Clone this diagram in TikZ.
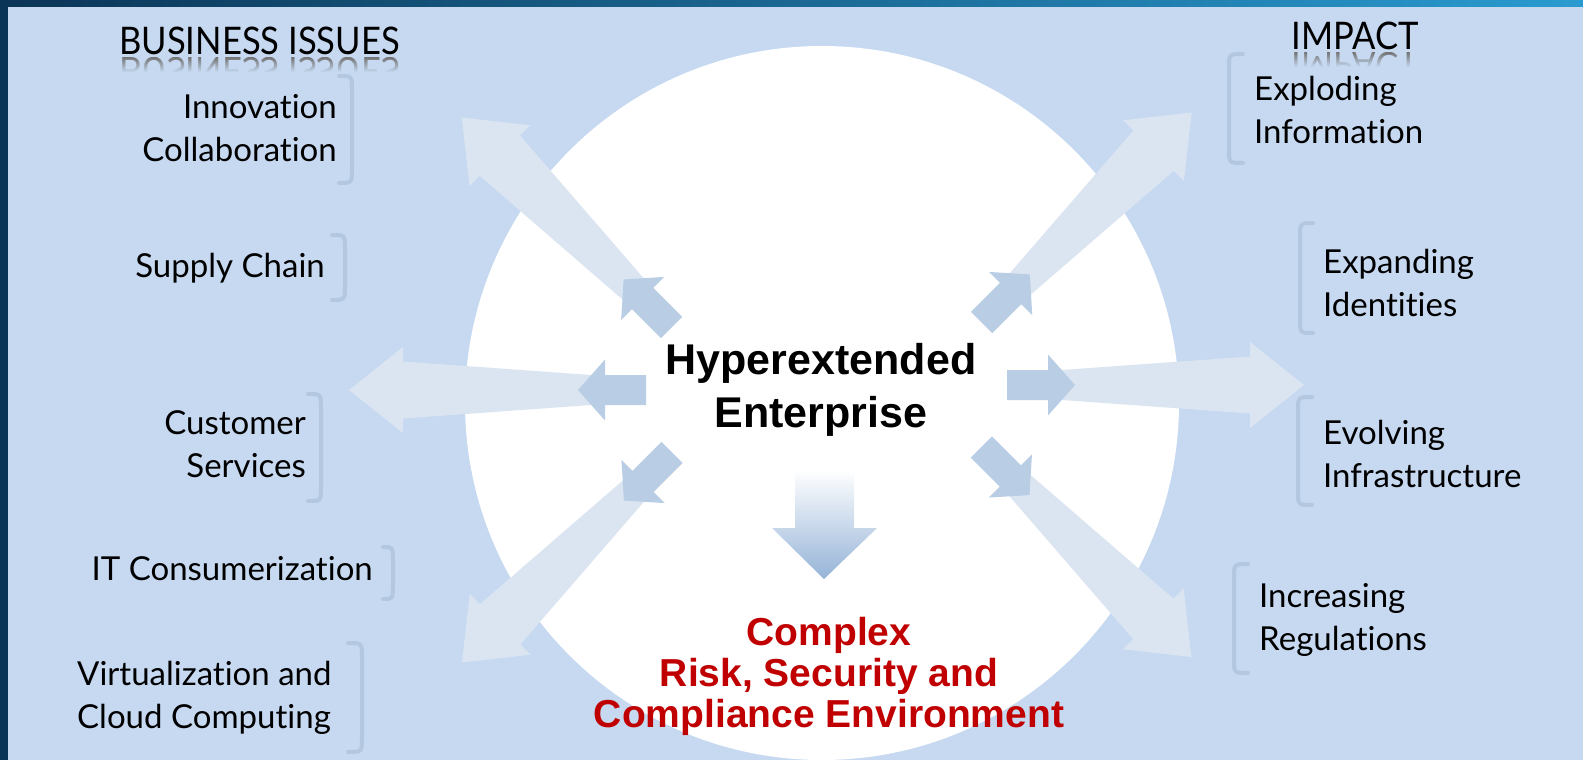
\documentclass[tikz,border=0pt]{standalone}
\usepackage{fontspec}
\setmainfont{Lato}[Ligatures=NoCommon]
\newfontfamily\arialfont{Liberation Sans}
\usetikzlibrary{fadings}

\definecolor{techdark}{HTML}{0B3556}
\definecolor{techcyan}{HTML}{2A9BD0}
\definecolor{panelblue}{HTML}{C6D9F1}
\definecolor{paleblue}{HTML}{DBE5F1}
\definecolor{spokeblue}{HTML}{B9CDE5}
\definecolor{bracketblue}{HTML}{B3C7E1}
\definecolor{dropblue}{HTML}{95B3D7}
\definecolor{riskred}{HTML}{C00000}

\tikzset{
  issue/.style={font=\fontsize{33}{43}\selectfont, inner sep=0pt, align=right, anchor=base east},
  effect/.style={font=\fontsize{33}{43}\selectfont, inner sep=0pt, align=left, anchor=base west},
  heading/.style={font=\fontsize{38}{40}\selectfont, inner sep=0pt, anchor=base, xscale=0.91, transform shape},
  mirror/.style={heading, yscale=-1, text=black!55},
  hubtext/.style={font=\arialfont\bfseries\fontsize{43}{53}\selectfont, inner sep=0pt, align=center, anchor=base},
  risktext/.style={font=\arialfont\bfseries\fontsize{39}{41}\selectfont, inner sep=0pt, align=center, anchor=base, text=riskred},
  brace/.style={draw=bracketblue, line width=4pt, line cap=round}
}

% tail point and direction of each spoke
\def\spokes{646/390/180, 671.7/327.5/135, 981.7/322.5/45, 1007/385/0, 672/452.5/225, 981.4/447/315}

\begin{document}
\begin{tikzpicture}[x=1pt, y=-1pt]
  \useasboundingbox (0,0) rectangle (1583,760);
  \shade[left color=techdark, right color=techcyan] (0,0) rectangle (1583,760);
  \fill[panelblue] (8,7) rectangle (1583,760);
  \fill[white] (822,403) circle[radius=357pt];

  % long pale spokes, then the short ones on top
  \foreach \tx/\ty/\a in \spokes
    \fill[paleblue, shift={(\tx,\ty)}, rotate=\a]
      (41,-14) -- (243,-28.5) -- (243,-43) -- (297,0) -- (243,43) -- (243,28.5) -- (41,14) -- cycle;
  \foreach \tx/\ty/\a in \spokes
    \fill[spokeblue, shift={(\tx,\ty)}, rotate=\a]
      (0,-15) -- (41,-15) -- (41,-30.5) -- (68,0) -- (41,30.5) -- (41,15) -- (0,15) -- cycle;

  % down arrow
  \shade[top color=white, bottom color=dropblue]
    (795,470) -- (854,470) -- (854,528) -- (877,528) -- (824,579) -- (772,528) -- (795,528) -- cycle;

  \node[hubtext] (hub) at (821,427) {Hyperextended\\Enterprise};
  \node[risktext] (risk) at (829,727) {Complex\\Risk, Security and\\Compliance Environment};

  % headings with their reflection
  \node[heading] (issues) at (259.5,55) {BUSINESS ISSUES};
  \node[heading] (impact) at (1355,50) {IMPACT};
  \begin{scope}
    \clip (110,57) rectangle (410,72) (1285,52) rectangle (1425,67);
    \node[mirror] (issuesr) at (259.5,58) {BUSINESS ISSUES};
    \node[mirror] (impactr) at (1355,53) {IMPACT};
  \end{scope}
  \fill[panelblue, path fading=north] (110,57) rectangle (410,72);
  \fill[panelblue, path fading=north] (1285,52) rectangle (1425,67);

  \node[issue] (innov) at (337,161) {Innovation\\Collaboration};
  \node[issue] (supply) at (325,277) {Supply Chain};
  \node[issue] (customer) at (306,477) {Customer\\Services};
  \node[issue] (consumer) at (373,580) {IT Consumerization};
  \node[issue, align=left, anchor=base west] (cloud) at (77,728) {Virtualization and\\Cloud Computing};
  \node[effect] (explode) at (1254,143) {Exploding\\Information};
  \node[effect] (identity) at (1323,316) {Expanding\\Identities};
  \node[effect] (infra) at (1323,487) {Evolving\\Infrastructure};
  \node[effect] (regul) at (1259,650) {Increasing\\Regulations};

  % brackets beside the lists
  \foreach \xa/\xb/\ya/\yb in {339/352/76/183, 332/345/235/300, 308/321/394/501, 383/393/547/599, 348/362/643/752,
      1243/1229/54/163, 1313/1300/223/333, 1312/1298/397/505, 1248/1234/564/673}
    \draw[brace] (\xa,\ya) .. controls (\xb,\ya) .. (\xb,\ya+14) -- (\xb,\yb-14) .. controls (\xb,\yb) .. (\xa,\yb);
\end{tikzpicture}
\end{document}
